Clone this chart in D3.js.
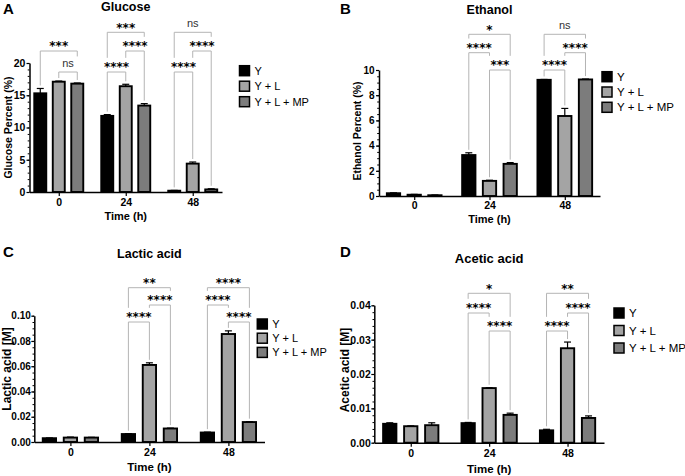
<!DOCTYPE html>
<html>
<head>
<meta charset="utf-8">
<script src="https://cdn.jsdelivr.net/npm/d3@7"></script>
<style>
  html, body { margin: 0; padding: 0; background: #fff; }
  svg { display: block; font-family: "Liberation Sans", Arial, sans-serif; }
</style>
</head>
<body>
<script>
// ---------- DATA ----------
const categories = ["0", "24", "48"];
const seriesNames = ["Y", "Y + L", "Y + L + MP"];

// Glucose (%)
const glucoseY = [15.3, 11.8, 0.2];
const glucoseYErr = [0.75, 0.2, 0.05];
const glucoseYL = [17.1, 16.4, 4.4];
const glucoseYLErr = [0.1, 0.3, 0.25];
const glucoseYLMP = [16.8, 13.4, 0.4];
const glucoseYLMPErr = [0.1, 0.3, 0.1];
const glucoseTicks = [0, 5, 10, 15, 20];
// [group, seriesA, seriesB, label, level]
const glucoseSig = [[0,0,2,"***",1],[0,1,2,"ns",0],[1,0,2,"***",2],[1,1,2,"****",1],[1,0,1,"****",0],[2,0,2,"ns",2],[2,1,2,"****",1],[2,0,1,"****",0]];

// Ethanol (%)
const ethanolY = [0.22, 3.25, 9.22];
const ethanolYErr = [0.03, 0.18, 0.03];
const ethanolYL = [0.1, 1.2, 6.35];
const ethanolYLErr = [0.03, 0.05, 0.6];
const ethanolYLMP = [0.06, 2.55, 9.25];
const ethanolYLMPErr = [0.02, 0.1, 0.03];
const ethanolTicks = [0, 2, 4, 6, 8, 10];
const ethanolSig = [[1,0,2,"*",2],[1,0,1,"****",1],[1,1,2,"***",0],[2,0,2,"ns",2],[2,1,2,"****",1],[2,0,1,"****",0]];

// Lactic acid [M]
const lacticY = [0.003, 0.0063, 0.0075];
const lacticYErr = [0.0002, 0.0003, 0.0003];
const lacticYL = [0.0035, 0.061, 0.0855];
const lacticYLErr = [0.0004, 0.0017, 0.0025];
const lacticYLMP = [0.0035, 0.0107, 0.0158];
const lacticYLMPErr = [0.0002, 0.0003, 0.0003];
const lacticTicks = [0, 0.02, 0.04, 0.06, 0.08, 0.10];
const lacticSig = [[1,0,2,"**",2],[1,1,2,"****",1],[1,0,1,"****",0],[2,0,2,"****",2],[2,0,1,"****",1],[2,1,2,"****",0]];

// Acetic acid [M]
const aceticY = [0.0055, 0.0057, 0.0036];
const aceticYErr = [0.0003, 0.0002, 0.0003];
const aceticYL = [0.0048, 0.0159, 0.0275];
const aceticYLErr = [0.0001, 0.0001, 0.0018];
const aceticYLMP = [0.0051, 0.0081, 0.0072];
const aceticYLMPErr = [0.0007, 0.0005, 0.0006];
const aceticTicks = [0, 0.01, 0.02, 0.03, 0.04];
const aceticSig = [[1,0,2,"*",2],[1,0,1,"****",1],[1,1,2,"****",0],[2,0,2,"**",2],[2,1,2,"****",1],[2,0,1,"****",0]];

// ---------- DRAWING ----------
const fills = ["#000000", "#a4a4a4", "#7c7c7c"];
const svg = d3.select("body").append("svg").attr("width", 685).attr("height", 476);

function drawPanel(p) {
  const g = svg.append("g");
  const x = d3.scalePoint().domain(categories).range([p.x0, p.x1]).padding(p.pad);
  const inner = d3.scaleBand().domain(seriesNames)
    .range([-(p.pitch + p.bw / 2), p.pitch + p.bw / 2])
    .paddingInner(1 - p.bw / p.pitch).paddingOuter(0);
  const ymax = p.ticks[p.ticks.length - 1];
  const y = d3.scaleLinear().domain([0, ymax]).range([p.y0, p.yTop]);

  const rows = [];
  p.means.forEach((arr, si) => arr.forEach((v, ci) => rows.push({ si, ci, v, e: p.errs[si][ci] })));
  const bx = d => x(categories[d.ci]) + inner(seriesNames[d.si]);

  // error bars (upper only)
  const eg = g.append("g").attr("stroke", "#000").attr("stroke-width", 1.2).attr("fill", "none");
  rows.forEach(d => {
    const cx = bx(d) + p.bw / 2;
    eg.append("line").attr("x1", cx).attr("x2", cx).attr("y1", y(d.v)).attr("y2", y(d.v + d.e));
    eg.append("line").attr("x1", cx - 3.5).attr("x2", cx + 3.5).attr("y1", y(d.v + d.e)).attr("y2", y(d.v + d.e));
  });

  // bars
  g.append("g").selectAll("rect").data(rows).join("rect")
    .attr("x", bx)
    .attr("y", d => y(d.v))
    .attr("width", p.bw)
    .attr("height", d => p.y0 - y(d.v))
    .attr("fill", d => fills[d.si])
    .attr("stroke", "#000").attr("stroke-width", 1.9);

  // y axis
  const minor = [];
  for (let v = 0; v <= ymax + 1e-9; v += p.minor) minor.push(+v.toFixed(6));
  const yMinor = g.append("g").attr("transform", `translate(${p.x0},0)`)
    .call(d3.axisLeft(y).tickValues(minor).tickSize(1.8).tickFormat(""));
  yMinor.select(".domain").remove();
  yMinor.selectAll("line").attr("stroke-width", 1);
  const yAxis = g.append("g").attr("transform", `translate(${p.x0},0)`)
    .call(d3.axisLeft(y).tickValues(p.ticks).tickSize(3).tickSizeOuter(0).tickPadding(p.yPad).tickFormat(p.fmt));
  yAxis.select(".domain").attr("stroke-width", 1.5);
  yAxis.selectAll("line").attr("stroke-width", 1.2);
  yAxis.selectAll("text").attr("font-size", p.yTickFs).attr("font-weight", "bold")
    .attr("font-family", "Liberation Sans, Arial, sans-serif").attr("fill", "#000");

  // x axis
  const xAxis = g.append("g").attr("transform", `translate(0,${p.y0})`)
    .call(d3.axisBottom(x).tickSize(4).tickSizeOuter(0).tickPadding(p.xPad));
  xAxis.select(".domain").attr("stroke-width", 1.5);
  xAxis.selectAll("line").attr("stroke-width", 1.2);
  xAxis.selectAll("text").attr("font-size", p.tickFs).attr("font-weight", "bold")
    .attr("font-family", "Liberation Sans, Arial, sans-serif").attr("fill", "#000");

  // titles
  g.append("text").attr("x", (p.x0 + p.x1) / 2).attr("y", p.titleY).attr("text-anchor", "middle")
    .attr("font-size", p.titleFs).attr("font-weight", "bold").text(p.title);
  g.append("text").attr("x", p.letterX).attr("y", p.letterY)
    .attr("font-size", 15).attr("font-weight", "bold").text(p.letter);
  g.append("text").attr("x", (p.x0 + p.x1) / 2).attr("y", p.xTitleY).attr("text-anchor", "middle")
    .attr("font-size", p.axTitleFs).attr("font-weight", "bold").text("Time (h)");
  g.append("text").attr("transform", `translate(${p.yTitleX},${p.yTitleY}) rotate(-90)`)
    .attr("text-anchor", "middle").attr("font-size", p.yTitleFs).attr("font-weight", "bold").text(p.yTitle);

  // legend
  seriesNames.forEach((s, i) => {
    const cy = p.legY + i * p.legDy;
    g.append("rect").attr("x", p.legX).attr("y", cy - 5).attr("width", 10).attr("height", 10)
      .attr("fill", fills[i]).attr("stroke", "#000").attr("stroke-width", 1.5);
    g.append("text").attr("x", p.legX + 15).attr("y", cy + 4).attr("font-size", p.legFs).text(s);
  });

  // significance brackets
  const items = p.sig.map(s => {
    const gx = x(categories[s[0]]);
    const xa = gx + inner(seriesNames[s[1]]) + p.bw / 2;
    const xb = gx + inner(seriesNames[s[2]]) + p.bw / 2;
    return { group: s[0], sa: s[1], sb: s[2], xa, xb, yl: p.levels[s[4]], label: s[3] };
  });
  const bg = g.append("g");
  items.forEach(it => {
    const ns = it.label === "ns";
    const fs = ns ? 11 : 12;
    const base = ns ? it.yl - 5.5 : it.yl - 0.8;
    const t = bg.append("text").attr("x", (it.xa + it.xb) / 2).attr("y", base)
      .attr("text-anchor", "middle").attr("font-size", fs)
      .attr("font-weight", ns ? "normal" : "bold")
      .attr("font-family", ns ? "Liberation Sans, Arial, sans-serif" : "DejaVu Sans, sans-serif")
      .attr("fill", ns ? "#333" : "#000").text(it.label);
    const w = t.node().getComputedTextLength();
    it.tl = (it.xa + it.xb) / 2 - w / 2;
    it.tr = (it.xa + it.xb) / 2 + w / 2;
    it.top = ns ? base - 0.55 * fs : base - 0.78 * fs;
  });
  const lg = bg.append("g").attr("stroke", "#b4b4b4").attr("stroke-width", 1).attr("fill", "none");
  items.forEach(it => {
    lg.append("line").attr("x1", it.xa).attr("x2", it.xb).attr("y1", it.yl).attr("y2", it.yl);
    [[it.xa, it.sa], [it.xb, it.sb]].forEach(([lx, si]) => {
      let end = y(p.means[si][it.group] + p.errs[si][it.group]) - 3;
      items.forEach(o => {
        if (o === it || o.group !== it.group || o.yl <= it.yl) return;
        const l = Math.min(o.tl, o.xa) - 0.5, r = Math.max(o.tr, o.xb) + 0.5;
        if (lx >= l && lx <= r) end = Math.min(end, o.top - 4);
      });
      if (end > it.yl) lg.append("line").attr("x1", lx).attr("x2", lx).attr("y1", it.yl).attr("y2", end);
    });
  });
}

drawPanel({
  letter: "A", title: "Glucose", yTitle: "Glucose Percent (%)",
  means: [glucoseY, glucoseYL, glucoseYLMP], errs: [glucoseYErr, glucoseYLErr, glucoseYLMPErr],
  ticks: glucoseTicks, minor: 1, fmt: d3.format("d"), sig: glucoseSig,
  x0: 29.5, x1: 222, pad: 0.437, y0: 192, yTop: 63, pitch: 18.5, bw: 12,
  levels: [72, 51, 32.3], legX: 239.5, legY: 70.7, legDy: 15.5, legFs: 11,
  titleY: 11, titleFs: 12.5, letterX: 3, letterY: 14, yTitleX: 11.5, yTitleY: 127.5, yTitleFs: 10.5,
  xTitleY: 220, axTitleFs: 11, tickFs: 10.5, yTickFs: 10.5, yPad: 1.2, xPad: 3
});
drawPanel({
  letter: "B", title: "Ethanol", yTitle: "Ethanol Percent (%)",
  means: [ethanolY, ethanolYL, ethanolYLMP], errs: [ethanolYErr, ethanolYLErr, ethanolYLMPErr],
  ticks: ethanolTicks, minor: 0.5, fmt: d3.format("d"), sig: ethanolSig,
  x0: 379, x1: 600, pad: 0.4675, y0: 196, yTop: 70, pitch: 20.7, bw: 13.3,
  levels: [70, 52.7, 34.3], legX: 602, legY: 76.7, legDy: 15.3, legFs: 11.5,
  titleY: 13.5, titleFs: 12.5, letterX: 340, letterY: 14, yTitleX: 361, yTitleY: 131, yTitleFs: 10.5,
  xTitleY: 223, axTitleFs: 11, tickFs: 10.5, yTickFs: 10, yPad: 1.5, xPad: 2
});
drawPanel({
  letter: "C", title: "Lactic acid", yTitle: "Lactic acid [M]",
  means: [lacticY, lacticYL, lacticYLMP], errs: [lacticYErr, lacticYLErr, lacticYLMPErr],
  ticks: lacticTicks, minor: 0.005, fmt: d3.format(".2f"), sig: lacticSig,
  x0: 34.3, x1: 264.5, pad: 0.457, y0: 442, yTop: 315.7, pitch: 21, bw: 13.3,
  levels: [322, 305, 287.7], legX: 257.3, legY: 324, legDy: 14.2, legFs: 11,
  titleY: 258, titleFs: 12.5, letterX: 3, letterY: 257, yTitleX: 10.5, yTitleY: 369, yTitleFs: 12,
  xTitleY: 471, axTitleFs: 11.5, tickFs: 10.5, yTickFs: 10, yPad: 0.5, xPad: 3
});
drawPanel({
  letter: "D", title: "Acetic acid", yTitle: "Acetic acid [M]",
  means: [aceticY, aceticYL, aceticYLMP], errs: [aceticYErr, aceticYLErr, aceticYLMPErr],
  ticks: aceticTicks, minor: 0.002, fmt: d3.format(".2f"), sig: aceticSig,
  x0: 374.3, x1: 604, pad: 0.465, y0: 442.7, yTop: 305.3, pitch: 21, bw: 13.3,
  levels: [331, 313, 293.3], legX: 614, legY: 313, legDy: 17.5, legFs: 11.5,
  titleY: 263, titleFs: 13, letterX: 340, letterY: 257, yTitleX: 348.5, yTitleY: 370, yTitleFs: 12,
  xTitleY: 473, axTitleFs: 11.5, tickFs: 10.5, yTickFs: 10.5, yPad: 0.5, xPad: 3
});
</script>
</body>
</html>
